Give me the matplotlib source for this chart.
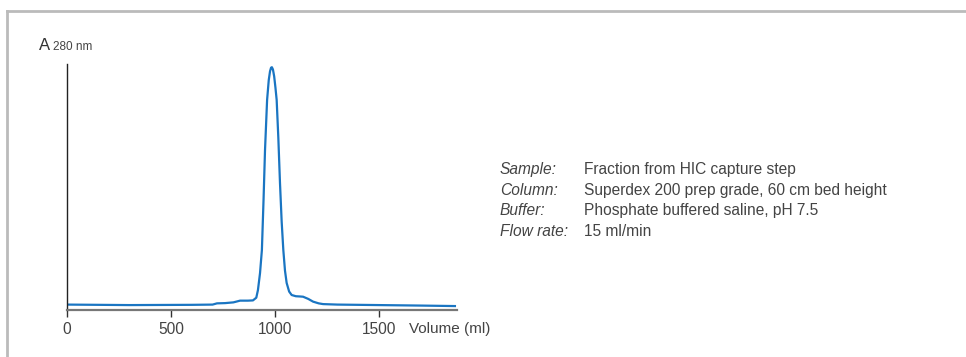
import matplotlib
matplotlib.use("Agg")
import matplotlib.pyplot as plt
from matplotlib.lines import Line2D

volume = [0, 300, 600, 700, 721, 760, 800, 832, 870, 894, 910, 918, 928, 937, 945,
          952, 962, 970, 976, 981, 985, 990, 996, 1002, 1008, 1016, 1024, 1032, 1040,
          1048, 1056, 1068, 1080, 1100, 1120, 1135, 1160, 1183, 1210, 1231, 1300,
          1500, 1700, 1865]
absorb = [0.022, 0.020, 0.021, 0.022, 0.027, 0.028, 0.031, 0.038, 0.038, 0.039, 0.05,
          0.081, 0.15, 0.244, 0.45, 0.65, 0.854, 0.935, 0.970, 0.985, 0.987, 0.978,
          0.950, 0.905, 0.854, 0.70, 0.516, 0.36, 0.244, 0.16, 0.11, 0.075, 0.061,
          0.056, 0.055, 0.054, 0.045, 0.034, 0.027, 0.024, 0.022, 0.020, 0.018, 0.016]
x_ticks = [0, 500, 1000, 1500]

info_labels = ["Sample:", "Column:", "Buffer:", "Flow rate:"]
info_values = ["Fraction from HIC capture step",
               "Superdex 200 prep grade, 60 cm bed height",
               "Phosphate buffered saline, pH 7.5",
               "15 ml/min"]

plt.rcParams["font.family"] = ["Liberation Sans", "DejaVu Sans"]
text_col = "#444444"

fig = plt.figure(figsize=(9.66, 3.57), dpi=100)
ax = fig.add_axes([67 / 966, 1 - 310 / 357, (457 - 67) / 966, (310 - 64) / 357])

ax.plot(volume, absorb, color="#1a75c2", lw=1.6)
ax.set_xlim(0, 1875)
ax.set_ylim(0, 1)

ax.spines["top"].set_visible(False)
ax.spines["right"].set_visible(False)
ax.spines["left"].set_color("#222222")
ax.spines["left"].set_linewidth(1.0)
ax.spines["bottom"].set_color("#777777")
ax.spines["bottom"].set_linewidth(1.6)
ax.set_yticks([])
ax.set_xticks(x_ticks)
ax.set_xticklabels([str(t) for t in x_ticks])
ax.tick_params(axis="x", direction="out", length=5, width=1, color="#333333",
               labelsize=11.2, labelcolor=text_col, pad=4)

fig.text(409 / 966, 1 - 333 / 357, "Volume (ml)", fontsize=11, color=text_col,
         ha="left", va="baseline")

# etichetta asse y
fig.text(39 / 966, 1 - 50 / 357, "A", fontsize=12, color="#333333", va="baseline")
fig.text(53 / 966, 1 - 50 / 357, "280 nm", fontsize=8.5, color=text_col, va="baseline")

# blocco informazioni
for i, (lab, val) in enumerate(zip(info_labels, info_values)):
    y = 1 - (174 + i * 20.6) / 357
    fig.text(500 / 966, y, lab, fontsize=11.2, style="italic", color=text_col, va="baseline")
    fig.text(584 / 966, y, val, fontsize=11.2, color=text_col, va="baseline")

# cornice grigia
fig.add_artist(Line2D([7 / 966, 1], [1 - 11 / 357, 1 - 11 / 357], color="#bbbbbb", lw=2))
fig.add_artist(Line2D([7 / 966, 7 / 966], [0, 1 - 11 / 357], color="#bbbbbb", lw=2))

plt.savefig("out.png", dpi=100)
plt.close()
